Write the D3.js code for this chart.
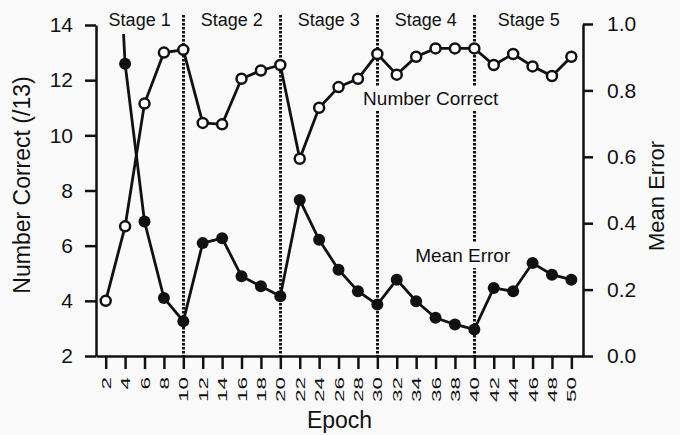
<!DOCTYPE html>
<html>
<head>
<meta charset="utf-8">
<script src="https://cdn.jsdelivr.net/npm/d3@7"></script>
<style>
  body { margin: 0; background: #fafafa; }
  svg { display: block; font-family: "Liberation Sans", Arial, sans-serif; }
</style>
</head>
<body>
<svg width="680" height="435"></svg>
<script>
/** data */
var epochs = [2, 4, 6, 8, 10, 12, 14, 16, 18, 20, 22, 24, 26, 28, 30, 32, 34, 36, 38, 40, 42, 44, 46, 48, 50];
var numberCorrect = [4.0, 6.7, 11.15, 13.0, 13.1, 10.45, 10.4, 12.05, 12.35, 12.55, 9.15, 11.0, 11.75, 12.05, 12.95, 12.2, 12.85, 13.15, 13.15, 13.15, 12.55, 12.95, 12.5, 12.15, 12.85];
// first value runs off the top of the chart
var meanError = [2.0, 0.88, 0.405, 0.175, 0.105, 0.34, 0.355, 0.24, 0.21, 0.18, 0.47, 0.35, 0.26, 0.195, 0.155, 0.23, 0.165, 0.115, 0.095, 0.08, 0.205, 0.195, 0.28, 0.245, 0.23];
var stageNames = ['Stage 1', 'Stage 2', 'Stage 3', 'Stage 4', 'Stage 5'];
var stageBounds = [10, 20, 30, 40];
var leftTicks = [2, 4, 6, 8, 10, 12, 14];
var rightTicks = [0, 0.2, 0.4, 0.6, 0.8, 1.0];

var ink = '#111';
var bg = '#fafafa';

var svg = d3.select('svg');
var width = +svg.attr('width');
var height = +svg.attr('height');
var margin = { top: 25, right: 97, bottom: 79, left: 96 };

var x = d3.scaleLinear().domain([1, 51.2]).range([margin.left, width - margin.right]);
var yNum = d3.scaleLinear().domain([2, 14]).range([height - margin.bottom, margin.top]);
var yErr = d3.scaleLinear().domain([0, 1]).range([height - margin.bottom, margin.top - 1]);

function styleAxis(g) {
    g.select('.domain').attr('stroke', ink).attr('stroke-width', 2.5);
    g.selectAll('.tick line').attr('stroke', ink).attr('stroke-width', 2.5);
    g.selectAll('.tick text').attr('fill', ink);
}

// stage dividers
var divTop = margin.top - 10;
svg.append('g').selectAll('line').data(stageBounds).join('line')
    .attr('x1', d => Math.round(x(d)) + 0.5).attr('x2', d => Math.round(x(d)) + 0.5)
    .attr('y1', divTop).attr('y2', yNum(2))
    .attr('stroke', ink).attr('stroke-width', 3)
    .attr('stroke-dasharray', '2.5,1.5');

// stage labels
var dom = x.domain();
svg.append('g').selectAll('text').data(stageNames).join('text')
    .attr('x', (d, i) => {
        var a = i === 0 ? dom[0] : stageBounds[i - 1];
        var b = i === stageNames.length - 1 ? dom[1] : stageBounds[i];
        return (x(a) + x(b)) / 2;
    })
    .attr('y', margin.top + 1)
    .attr('text-anchor', 'middle')
    .attr('font-size', 18)
    .attr('fill', ink)
    .text(d => d);

// series labels, with a patch of background behind them
function seriesLabel(txt, ex, ey) {
    var g = svg.append('g');
    var r = g.append('rect').attr('fill', bg);
    var t = g.append('text')
        .attr('x', ex).attr('y', ey)
        .attr('text-anchor', 'middle')
        .attr('font-size', 19)
        .attr('fill', ink)
        .text(txt);
    var bb = t.node().getBBox();
    r.attr('x', bb.x - 2).attr('y', bb.y - 2).attr('width', bb.width + 4).attr('height', bb.height + 4);
}
seriesLabel('Number Correct', x(35.5), yNum(11.1));
seriesLabel('Mean Error', x(38.8), yErr(0.283));

// axes
var xAxis = svg.append('g')
    .attr('transform', 'translate(0,' + (height - margin.bottom) + ')')
    .call(d3.axisBottom(x).tickValues(epochs).tickSize(13).tickSizeOuter(0));
xAxis.selectAll('.tick text')
    .attr('x', 0).attr('y', 0).attr('dy', '0.36em')
    .attr('text-anchor', 'end')
    .attr('font-size', 12.5)
    .attr('transform', 'translate(0,21) rotate(-90) scale(1.8,1)');
styleAxis(xAxis);

var leftAxis = svg.append('g')
    .attr('transform', 'translate(' + margin.left + ',0)')
    .call(d3.axisLeft(yNum).tickValues(leftTicks).tickSize(11).tickPadding(12).tickSizeOuter(0));
leftAxis.selectAll('.tick text').attr('font-size', 21);
styleAxis(leftAxis);

var rightAxis = svg.append('g')
    .attr('transform', 'translate(' + (width - margin.right) + ',0)')
    .call(d3.axisRight(yErr).tickValues(rightTicks).tickFormat(d3.format('.1f')).tickSize(10).tickPadding(14).tickSizeOuter(0));
rightAxis.selectAll('.tick text').attr('font-size', 21);
styleAxis(rightAxis);

// axis titles
svg.append('text')
    .attr('transform', 'translate(' + (x.range()[0] + x.range()[1]) / 2 + ',' + (height - 7) + ')')
    .attr('text-anchor', 'middle').attr('font-size', 23).attr('fill', ink)
    .text('Epoch');
svg.append('text')
    .attr('transform', 'translate(30,185) rotate(-90)')
    .attr('text-anchor', 'middle').attr('font-size', 23).attr('fill', ink)
    .text('Number Correct (/13)');
svg.append('text')
    .attr('transform', 'translate(664,196) rotate(-90)')
    .attr('text-anchor', 'middle').attr('font-size', 22).attr('fill', ink)
    .text('Mean Error');

// mean error series (clipped at the top)
svg.append('clipPath').attr('id', 'errClip')
    .append('rect')
    .attr('x', x.range()[0]).attr('y', yErr(0.97))
    .attr('width', x.range()[1] - x.range()[0])
    .attr('height', yErr(0) - yErr(0.97) + 10);

var errG = svg.append('g').attr('clip-path', 'url(#errClip)');
var errLine = d3.line().x((d, i) => x(epochs[i])).y(d => yErr(d));
errG.append('path').datum(meanError)
    .attr('d', errLine)
    .attr('fill', 'none').attr('stroke', ink).attr('stroke-width', 2.8);
errG.selectAll('circle').data(meanError).join('circle')
    .attr('cx', (d, i) => x(epochs[i]))
    .attr('cy', d => yErr(d))
    .attr('r', 6)
    .attr('fill', ink);

// number correct series
var numLine = d3.line().x((d, i) => x(epochs[i])).y(d => yNum(d));
svg.append('path').datum(numberCorrect)
    .attr('d', numLine)
    .attr('fill', 'none').attr('stroke', ink).attr('stroke-width', 2.8);
svg.append('g').selectAll('circle').data(numberCorrect).join('circle')
    .attr('cx', (d, i) => x(epochs[i]))
    .attr('cy', d => yNum(d))
    .attr('r', 5)
    .attr('fill', '#fff')
    .attr('stroke', ink).attr('stroke-width', 2.5);
</script>
</body>
</html>
